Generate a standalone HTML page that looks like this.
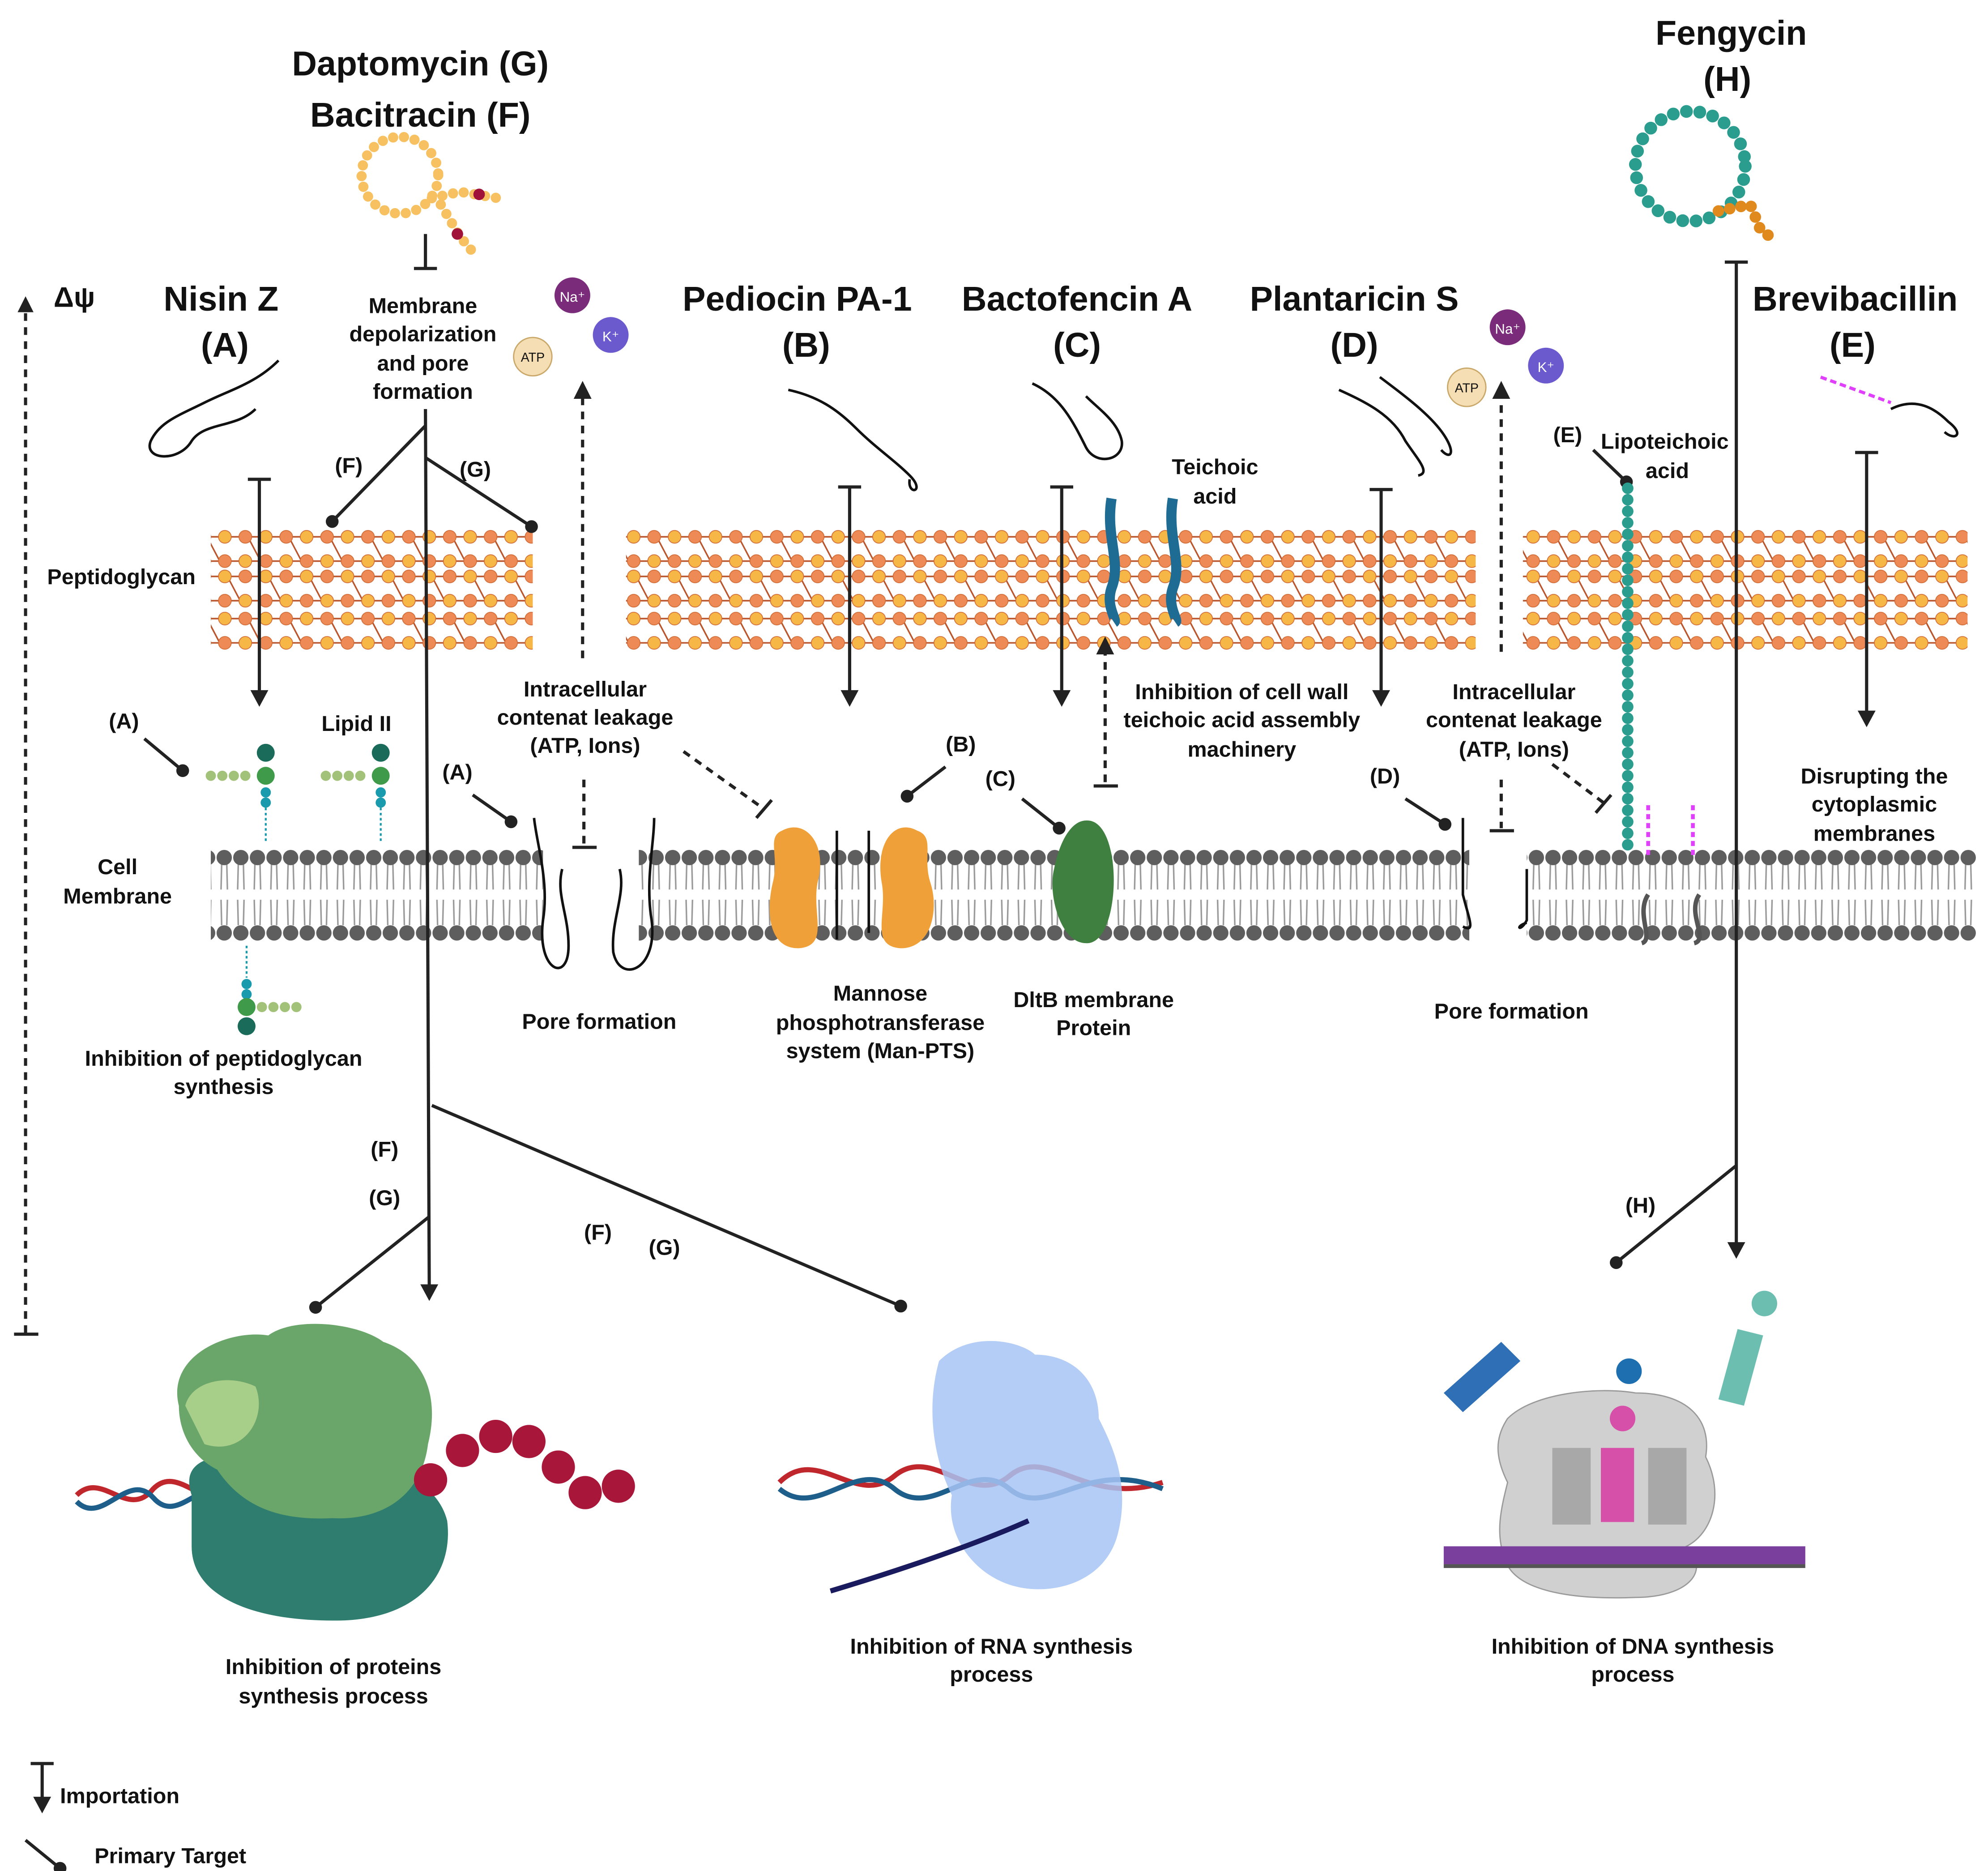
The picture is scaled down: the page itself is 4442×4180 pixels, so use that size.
<!DOCTYPE html>
<html><head><meta charset="utf-8"><style>
html,body{margin:0;padding:0;background:#fff;}
svg{display:block;}
text{font-family:"Liberation Sans",sans-serif;font-weight:bold;fill:#111;}
.t{font-size:27px;text-anchor:middle;}
.l{font-size:17px;text-anchor:middle;}
.s{font-size:17px;text-anchor:start;}
</style></head><body>
<svg width="4442" height="4180" viewBox="0 0 1556 1464" xmlns="http://www.w3.org/2000/svg">
<defs>
<pattern id="pg" x="0" y="414" width="32" height="100" patternUnits="userSpaceOnUse">
 <g stroke="#b8532a" stroke-width="1.2" fill="none">
  <line x1="0" y1="6" x2="32" y2="6"/><line x1="0" y1="25" x2="32" y2="25"/>
  <line x1="0" y1="37" x2="32" y2="37"/><line x1="0" y1="56" x2="32" y2="56"/>
  <line x1="0" y1="70" x2="32" y2="70"/><line x1="0" y1="89" x2="32" y2="89"/>
  <line x1="2" y1="6" x2="12" y2="25"/><line x1="18" y1="37" x2="28" y2="56"/><line x1="2" y1="70" x2="12" y2="89"/>
 </g>
 <g stroke="#d06a35" stroke-width="0.6">
 <circle cx="0" cy="6" r="5" fill="#ee8a55"/><circle cx="32" cy="6" r="5" fill="#ee8a55"/><circle cx="16" cy="6" r="5" fill="#f7b746"/>
 <circle cx="0" cy="25" r="5" fill="#f7b746"/><circle cx="32" cy="25" r="5" fill="#f7b746"/><circle cx="16" cy="25" r="5" fill="#ee8a55"/>
 <circle cx="0" cy="37" r="5" fill="#ee8a55"/><circle cx="32" cy="37" r="5" fill="#ee8a55"/><circle cx="16" cy="37" r="5" fill="#f7b746"/>
 <circle cx="0" cy="56" r="5" fill="#f7b746"/><circle cx="32" cy="56" r="5" fill="#f7b746"/><circle cx="16" cy="56" r="5" fill="#ee8a55"/>
 <circle cx="0" cy="70" r="5" fill="#ee8a55"/><circle cx="32" cy="70" r="5" fill="#ee8a55"/><circle cx="16" cy="70" r="5" fill="#f7b746"/>
 <circle cx="0" cy="89" r="5" fill="#f7b746"/><circle cx="32" cy="89" r="5" fill="#f7b746"/><circle cx="16" cy="89" r="5" fill="#ee8a55"/>
 </g>
</pattern>
<pattern id="mem" x="0" y="664" width="13" height="75" patternUnits="userSpaceOnUse">
 <g stroke="#9a9a9a" stroke-width="1.2" fill="none">
  <path d="M4.5 12 L4 32 M8.5 12 L9 32 M4 40 L4.5 60 M9 40 L8.5 60"/>
 </g>
 <circle cx="6.5" cy="7" r="6" fill="#5e5e5e"/><circle cx="6.5" cy="66" r="6" fill="#5e5e5e"/>
</pattern>
<marker id="ah" viewBox="0 0 10 10" refX="5" refY="5" markerWidth="5" markerHeight="5" orient="auto"><path d="M0 0 L10 5 L0 10 z" fill="#222"/></marker>
</defs>

<rect x="165" y="414" width="252" height="98" fill="url(#pg)"/>
<rect x="490" y="414" width="665" height="98" fill="url(#pg)"/>
<rect x="1192" y="414" width="348" height="98" fill="url(#pg)"/>
<rect x="165" y="664" width="260" height="75" fill="url(#mem)"/>
<rect x="500" y="664" width="650" height="75" fill="url(#mem)"/>
<rect x="1195" y="664" width="352" height="75" fill="url(#mem)"/>

<text class="t" x="329" y="59">Daptomycin (G)</text>
<text class="t" x="329" y="99">Bacitracin (F)</text>
<text class="t" x="1355" y="35">Fengycin</text>
<text class="t" x="1352" y="71">(H)</text>
<text class="t" x="173" y="243">Nisin Z</text>
<text class="t" x="176" y="279">(A)</text>
<text class="t" x="624" y="243">Pediocin  PA-1</text>
<text class="t" x="631" y="279">(B)</text>
<text class="t" x="843" y="243">Bactofencin A</text>
<text class="t" x="843" y="279">(C)</text>
<text class="t" x="1060" y="243">Plantaricin S</text>
<text class="t" x="1060" y="279">(D)</text>
<text class="t" x="1452" y="243">Brevibacillin</text>
<text class="t" x="1450" y="279">(E)</text>
<text x="42" y="240" style="font-size:22px">Δψ</text>

<line x1="20" y1="1043" x2="20" y2="238" stroke="#222" stroke-width="2.5" stroke-dasharray="6,5" marker-end="url(#ah)"/>
<line x1="11" y1="1044" x2="30" y2="1044" stroke="#222" stroke-width="2.5"/>

<text class="l" x="95" y="457">Peptidoglycan</text>
<text class="l" x="92" y="684">Cell</text><text class="l" x="92" y="707">Membrane</text>
<text class="l" x="97" y="570">(A)</text>
<text class="l" x="279" y="572">Lipid II</text>
<text class="l" x="273" y="370">(F)</text><text class="l" x="372" y="373">(G)</text>
<text class="l" x="331" y="245">Membrane</text><text class="l" x="331" y="267">depolarization</text><text class="l" x="331" y="290">and pore</text><text class="l" x="331" y="312">formation</text>
<text class="l" x="458" y="545">Intracellular</text><text class="l" x="458" y="567">contenat leakage</text><text class="l" x="458" y="589">(ATP, Ions)</text>
<text class="l" x="358" y="610">(A)</text>
<text class="l" x="752" y="588">(B)</text>
<text class="l" x="783" y="615">(C)</text>
<text class="l" x="951" y="371">Teichoic</text><text class="l" x="951" y="394">acid</text>
<text class="l" x="972" y="547">Inhibition of cell wall</text><text class="l" x="972" y="569">teichoic acid assembly</text><text class="l" x="972" y="592">machinery</text>
<text class="l" x="1185" y="547">Intracellular</text><text class="l" x="1185" y="569">contenat leakage</text><text class="l" x="1185" y="592">(ATP, Ions)</text>
<text class="l" x="1084" y="613">(D)</text>
<text class="l" x="1227" y="346">(E)</text>
<text class="l" x="1303" y="351">Lipoteichoic</text><text class="l" x="1305" y="374">acid</text>
<text class="l" x="1467" y="613">Disrupting the</text><text class="l" x="1467" y="635">cytoplasmic</text><text class="l" x="1467" y="658">membranes</text>
<text class="l" x="175" y="834">Inhibition of peptidoglycan</text><text class="l" x="175" y="856">synthesis</text>
<text class="l" x="469" y="805">Pore formation</text>
<text class="l" x="689" y="783">Mannose</text><text class="l" x="689" y="806">phosphotransferase</text><text class="l" x="689" y="828">system (Man-PTS)</text>
<text class="l" x="856" y="788">DltB membrane</text><text class="l" x="856" y="810">Protein</text>
<text class="l" x="1183" y="797">Pore formation</text>
<text class="l" x="301" y="905">(F)</text><text class="l" x="301" y="943">(G)</text>
<text class="l" x="468" y="970">(F)</text><text class="l" x="520" y="982">(G)</text>
<text class="l" x="1284" y="949">(H)</text>
<text class="l" x="261" y="1310">Inhibition of proteins</text><text class="l" x="261" y="1333">synthesis process</text>
<text class="l" x="776" y="1294">Inhibition of RNA synthesis</text><text class="l" x="776" y="1316">process</text>
<text class="l" x="1278" y="1294">Inhibition of DNA synthesis</text><text class="l" x="1278" y="1316">process</text>
<text class="s" x="47" y="1411">Importation</text>
<text class="s" x="74" y="1458">Primary Target</text>

<g stroke="#222" stroke-width="2.5" fill="none">
 <path d="M194 375 H212 M203 375 V545"/>
 <path d="M656 381 H674 M665 381 V547"/>
 <path d="M822 381 H840 M831 381 V547"/>
 <path d="M1072 383 H1090 M1081 383 V547"/>
 <path d="M1452 354 H1470 M1461 354 V562"/>
 <path d="M1350 205 H1368 M1359 205 V978"/>
 <path d="M1359 912 L1265 988"/>
 <path d="M324 210 H342 M333 183 V210"/>
 <path d="M333 320 L336 1012"/>
 <path d="M333 333 L260 408 M333 358 L416 412 M338 865 L705 1022 M336 952 L247 1023"/>
 <path d="M113 578 L143 603 M370 622 L400 643 M740 600 L710 623 M800 625 L829 648 M1100 625 L1131 645 M1247 352 L1273 377"/>
 <path d="M24 1380 H42 M33 1380 V1412"/>
 <path d="M20 1440 L47 1462"/>
</g>
<g fill="#222">
 <path d="M196 540 L210 540 L203 553 z"/><path d="M658 540 L672 540 L665 553 z"/><path d="M824 540 L838 540 L831 553 z"/>
 <path d="M1074 540 L1088 540 L1081 553 z"/><path d="M1454 556 L1468 556 L1461 569 z"/><path d="M1352 972 L1366 972 L1359 985 z"/>
 <path d="M329 1005 L343 1005 L336 1018 z"/><path d="M26 1406 L40 1406 L33 1419 z"/>
 <circle cx="260" cy="408" r="5"/><circle cx="416" cy="412" r="5"/><circle cx="705" cy="1022" r="5"/><circle cx="247" cy="1023" r="5"/>
 <circle cx="143" cy="603" r="5"/><circle cx="400" cy="643" r="5"/><circle cx="710" cy="623" r="5"/><circle cx="829" cy="648" r="5"/>
 <circle cx="1131" cy="645" r="5"/><circle cx="1273" cy="377" r="5"/><circle cx="1265" cy="988" r="5"/><circle cx="47" cy="1462" r="5"/>
</g>
<g stroke="#222" stroke-width="2.5" fill="none" stroke-dasharray="6,5">
 <path d="M456 515 V310"/><path d="M457 610 V660"/><path d="M535 588 L598 633"/>
 <path d="M865 612 V510"/><path d="M1175 510 V310"/><path d="M1175 610 V648"/><path d="M1215 598 L1255 628"/>
</g>
<g stroke="#222" stroke-width="2.5"><path d="M448 663 H467 M856 615 H875 M1166 650 H1185 M592 640 L604 626 M1249 636 L1261 622"/></g>
<g fill="#222"><path d="M449 312 L463 312 L456 298 z"/><path d="M858 512 L872 512 L865 498 z"/><path d="M1168 312 L1182 312 L1175 298 z"/></g>

<circle cx="448" cy="231" r="14" fill="#7a2c7a"/><text x="448" y="236" style="font-size:11px;fill:#fff;text-anchor:middle;font-weight:normal">Na⁺</text>
<circle cx="478" cy="262" r="14" fill="#6a5acd"/><text x="478" y="267" style="font-size:11px;fill:#fff;text-anchor:middle;font-weight:normal">K⁺</text>
<circle cx="417" cy="279" r="15" fill="#f5deb3" stroke="#c9a86a"/><text x="417" y="283" style="font-size:10px;text-anchor:middle;font-weight:normal">ATP</text>
<circle cx="1180" cy="256" r="14" fill="#7a2c7a"/><text x="1180" y="261" style="font-size:11px;fill:#fff;text-anchor:middle;font-weight:normal">Na⁺</text>
<circle cx="1210" cy="286" r="14" fill="#6a5acd"/><text x="1210" y="291" style="font-size:11px;fill:#fff;text-anchor:middle;font-weight:normal">K⁺</text>
<circle cx="1148" cy="303" r="15" fill="#f5deb3" stroke="#c9a86a"/><text x="1148" y="307" style="font-size:10px;text-anchor:middle;font-weight:normal">ATP</text>

<circle cx="313" cy="137" r="30" fill="none" stroke="#f7c060" stroke-width="8" stroke-linecap="round" stroke-dasharray="0,8.5"/>
<path d="M338 155 L360 150 L390 155 M345 160 L360 185 L370 197" stroke="#f7c060" stroke-width="8" fill="none" stroke-linecap="round" stroke-dasharray="0,8.5"/>
<circle cx="375" cy="152" r="4.5" fill="#a0123a"/><circle cx="358" cy="183" r="4.5" fill="#a0123a"/>
<circle cx="1323" cy="130" r="43" fill="none" stroke="#2a9d8f" stroke-width="10" stroke-linecap="round" stroke-dasharray="0,10.5"/>
<path d="M1345 165 L1370 160 L1378 180 L1390 188" stroke="#e08a1e" stroke-width="9" fill="none" stroke-linecap="round" stroke-dasharray="0,9"/>

<g stroke="#111" stroke-width="2" fill="none">
 <path d="M218 282 C200 300 180 305 160 315 C140 325 125 330 118 345 C112 360 140 362 150 345 C160 330 185 335 200 320"/>
 <path d="M617 305 C640 310 655 320 670 335 C685 350 700 360 712 372 C725 385 710 388 712 375"/>
 <path d="M808 300 C830 310 840 330 850 350 C858 365 880 360 878 345 C875 330 860 320 850 310"/>
 <path d="M1048 305 C1070 315 1090 325 1100 345 C1110 360 1120 370 1110 372 M1080 295 C1100 310 1120 325 1130 340 C1140 355 1135 360 1128 352"/>
 <path d="M1480 320 C1500 310 1515 320 1525 330 C1538 340 1530 345 1522 338"/>
 <path d="M418 640 C420 660 430 690 425 720 C420 760 445 770 445 740 C445 715 435 700 440 680"/>
 <path d="M512 640 C512 660 505 690 510 720 C515 760 485 770 480 745 C478 720 490 700 485 680"/>
 <path d="M655 650 V735 M680 650 V730"/>
 <path d="M1145 640 V700 C1150 720 1155 730 1145 725 M1195 680 V720 C1190 730 1185 725 1195 722"/>
 <path d="M1290 700 C1280 715 1295 735 1285 738 M1330 700 C1320 715 1338 735 1326 738" stroke-width="3.5" stroke="#555"/>
</g>
<path d="M1425 295 L1480 315" stroke="#e040fb" stroke-width="2.5" fill="none" stroke-dasharray="5,3"/>
<path d="M1290 630 V670 M1325 630 V670" stroke="#e040fb" stroke-width="3" fill="none" stroke-dasharray="4,3"/>

<g>
 <circle cx="165" cy="607" r="4" fill="#a3c279"/><circle cx="174" cy="607" r="4" fill="#a3c279"/><circle cx="183" cy="607" r="4" fill="#a3c279"/><circle cx="192" cy="607" r="4" fill="#a3c279"/>
 <circle cx="208" cy="589" r="7" fill="#1b6b5a"/><circle cx="208" cy="607" r="7" fill="#3f9a4a"/><circle cx="208" cy="620" r="4" fill="#1a9bad"/><circle cx="208" cy="628" r="4" fill="#1a9bad"/>
 <path d="M208 632 V660" stroke="#1a9bad" stroke-width="1.5" stroke-dasharray="2,2"/>
 <circle cx="255" cy="607" r="4" fill="#a3c279"/><circle cx="264" cy="607" r="4" fill="#a3c279"/><circle cx="273" cy="607" r="4" fill="#a3c279"/><circle cx="282" cy="607" r="4" fill="#a3c279"/>
 <circle cx="298" cy="589" r="7" fill="#1b6b5a"/><circle cx="298" cy="607" r="7" fill="#3f9a4a"/><circle cx="298" cy="620" r="4" fill="#1a9bad"/><circle cx="298" cy="628" r="4" fill="#1a9bad"/>
 <path d="M298 632 V660" stroke="#1a9bad" stroke-width="1.5" stroke-dasharray="2,2"/>
 <path d="M193 740 V765" stroke="#1a9bad" stroke-width="1.5" stroke-dasharray="2,2"/>
 <circle cx="193" cy="770" r="4" fill="#1a9bad"/><circle cx="193" cy="778" r="4" fill="#1a9bad"/><circle cx="193" cy="788" r="7" fill="#3f9a4a"/><circle cx="193" cy="803" r="7" fill="#1b6b5a"/>
 <circle cx="205" cy="788" r="4" fill="#a3c279"/><circle cx="214" cy="788" r="4" fill="#a3c279"/><circle cx="223" cy="788" r="4" fill="#a3c279"/><circle cx="232" cy="788" r="4" fill="#a3c279"/>
</g>

<path d="M612 650 C630 640 648 660 640 690 C635 715 650 740 625 742 C600 742 600 710 605 690 C610 670 600 655 612 650z" fill="#f0a038"/>
<path d="M718 650 C700 640 685 660 690 690 C695 715 680 740 705 742 C730 742 735 710 728 690 C722 670 732 655 718 650z" fill="#f0a038"/>
<path d="M850 642 C880 640 878 740 850 738 C830 738 820 700 825 680 C830 655 840 642 850 642z" fill="#3f7f3f"/>
<path d="M870 390 C865 420 878 440 870 460 C865 475 875 485 872 487 M918 390 C913 420 926 440 918 460 C913 475 923 485 920 487" stroke="#1e6c93" stroke-width="8" fill="none"/>
<line x1="1274" y1="382" x2="1274" y2="666" stroke="#2a9d8f" stroke-width="9" stroke-linecap="round" stroke-dasharray="0,9"/>

<path d="M60 1170 C80 1150 100 1190 120 1165 C140 1145 160 1185 180 1165" stroke="#c0272d" stroke-width="4" fill="none"/>
<path d="M60 1175 C80 1195 100 1150 120 1172 C140 1195 160 1150 180 1172" stroke="#1d5e8a" stroke-width="4" fill="none"/>
<path d="M150 1170 C140 1140 170 1135 220 1140 C280 1135 340 1150 350 1190 C355 1230 330 1265 270 1268 C200 1270 150 1250 150 1210z" fill="#2e7d6e"/>
<path d="M140 1100 C130 1060 180 1040 210 1045 C230 1030 280 1035 300 1050 C330 1060 345 1090 335 1130 C330 1170 300 1190 260 1188 C220 1190 190 1180 170 1150 C150 1140 140 1120 140 1100z" fill="#6aa56a"/>
<path d="M145 1100 C150 1080 180 1075 200 1085 C210 1110 190 1140 160 1130z" fill="#a8cf8a"/>
<g fill="#a8163a"><circle cx="337" cy="1158" r="13"/><circle cx="362" cy="1135" r="13"/><circle cx="388" cy="1124" r="13"/><circle cx="414" cy="1128" r="13"/><circle cx="437" cy="1148" r="13"/><circle cx="458" cy="1168" r="13"/><circle cx="484" cy="1163" r="13"/></g>
<path d="M610 1160 C640 1130 670 1180 700 1155 C730 1130 760 1180 790 1155 C820 1130 850 1180 910 1160" stroke="#c0272d" stroke-width="4" fill="none"/>
<path d="M610 1165 C640 1190 670 1140 700 1165 C730 1190 760 1140 790 1165 C820 1190 850 1140 910 1165" stroke="#1d5e8a" stroke-width="4" fill="none"/>
<path d="M735 1065 C760 1040 800 1050 810 1060 C840 1060 860 1080 860 1110 C870 1130 885 1160 875 1200 C865 1240 820 1250 790 1240 C760 1230 740 1200 745 1170 C730 1140 725 1100 735 1065z" fill="#a7c4f5" opacity="0.85"/>
<path d="M650 1245 C700 1230 760 1210 805 1190" stroke="#1a1a5e" stroke-width="4" fill="none"/>
<path d="M1180 1110 C1200 1090 1250 1085 1280 1090 C1320 1090 1340 1110 1335 1140 C1350 1170 1340 1200 1320 1210 C1340 1230 1320 1250 1280 1250 C1230 1252 1185 1245 1178 1220 C1170 1200 1175 1180 1180 1160 C1170 1140 1170 1125 1180 1110z" fill="#d0d0d0" stroke="#9a9a9a"/>
<rect x="1215" y="1133" width="30" height="60" fill="#a8a8a8"/><rect x="1290" y="1133" width="30" height="60" fill="#a8a8a8"/>
<rect x="1253" y="1133" width="26" height="58" fill="#d64fa8"/>
<circle cx="1270" cy="1110" r="10" fill="#d64fa8"/><circle cx="1275" cy="1073" r="10" fill="#1e6fb0"/>
<rect x="1130" y="1210" width="283" height="14" fill="#7a3e9d"/>
<rect x="1130" y="1224" width="283" height="3" fill="#555"/>
<path d="M1130 1090 L1175 1050 L1190 1065 L1145 1105z" fill="#2e6fb5"/>
<path d="M1345 1095 L1360 1040 L1380 1045 L1365 1100z" fill="#6cbfb0"/><circle cx="1381" cy="1020" r="10" fill="#6cbfb0"/>
</svg>
</body></html>
